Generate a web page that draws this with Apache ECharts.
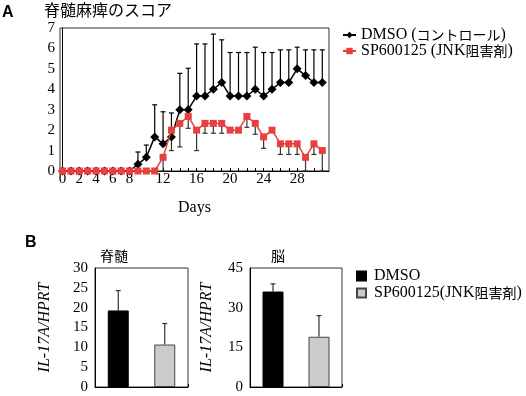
<!DOCTYPE html>
<html><head><meta charset="utf-8">
<script src="https://cdn.jsdelivr.net/npm/echarts@6/dist/echarts.min.js"></script>
<style>html,body{margin:0;padding:0;background:#fff}#c{width:526px;height:396px}</style>
</head><body><div id="c"></div>
<script>
// ---- Panel A data ----
const days = [0,1,2,3,4,5,6,7,8,9,10,11,12,13,14,15,16,17,18,19,20,21,22,23,24,25,26,27,28,29,30,31];
const xTickLabels = [0,2,4,6,8,12,16,20,24,28];
const dmsoScore = [0,0,0,0,0,0,0,0,0,0.33,0.67,1.67,1.33,1.67,3.0,3.0,3.67,3.67,4.0,4.33,3.67,3.67,3.67,4.0,3.67,4.0,4.33,4.33,5.0,4.67,4.33,4.33];
const dmsoErrUp = [0,0,0,0,0,0,0,0,0,0.6,0.6,1.57,1.57,1.17,1.78,2.03,2.55,2.55,2.7,2.09,2.13,2.13,2.13,2.06,2.13,1.8,1.6,1.6,1.06,1.26,1.6,1.6];
const spScore = [0,0,0,0,0,0,0,0,0,0,0,0,0.67,2.0,2.33,2.67,2.0,2.33,2.33,2.33,2.0,2.0,2.67,2.33,1.67,2.0,1.33,1.33,1.33,0.67,1.33,1.0];
const spErrDown = [0,0,0,0,0,0,0,0,0,0,0,0,0.67,1.0,1.15,0.58,1.0,0.48,0.48,0.48,0,0,0.53,0.53,0.56,0,0.52,0.52,0.52,0.67,0.52,1.0];
const nameDmsoA = 'DMSO (コントロール)';
const nameSpA = 'SP600125 (JNK阻害剤)';
// ---- Panel B data ----
const groups = ['DMSO', 'SP600125(JNK阻害剤)'];
const spinalMean = [19.3, 10.7];
const spinalErr = [5.0, 5.3];
const brainMean = [36.1, 19.0];
const brainErr = [2.9, 8.0];
const spinalTicks = [0, 30, 5];
const brainTicks = [0, 45, 15];

const SERIF = '"Liberation Serif","Noto Sans CJK JP",serif';
const CJK = '"Noto Sans CJK JP",sans-serif';
const RED = '#e8403f';

function richName(name) {
  let out = '', cur = '', curType = null;
  for (const ch of name) {
    const t = /[\u3000-\u9fff\uff00-\uffef]/.test(ch) ? 'c' : 's';
    if (t !== curType && cur) { out += '{' + curType + '|' + cur + '}'; cur = ''; }
    curType = t; cur += ch;
  }
  if (cur) out += '{' + curType + '|' + cur + '}';
  return out;
}

function errRender(color) {
  return function (params, api) {
    const x = api.value(0), y0 = api.value(1), y1 = api.value(2);
    const p0 = api.coord([x, y0]), p1 = api.coord([x, y1]);
    if (Math.abs(p0[1] - p1[1]) < 0.5) return { type: 'group', children: [] };
    return { type: 'group', children: [
      { type: 'line', shape: { x1: p0[0], y1: p0[1], x2: p1[0], y2: p1[1] }, style: { stroke: color, lineWidth: 1.2 } },
      { type: 'line', shape: { x1: p1[0] - 2.5, y1: p1[1], x2: p1[0] + 2.5, y2: p1[1] }, style: { stroke: color, lineWidth: 1.2 } }
    ]};
  };
}

const dmsoLine = days.map((d, i) => [d, dmsoScore[i]]);
const spLine = days.map((d, i) => [d, spScore[i]]);
const dmsoErr = days.map((d, i) => [d, dmsoScore[i], dmsoScore[i] + dmsoErrUp[i]]);
const spErr = days.map((d, i) => [d, spScore[i], spScore[i] - spErrDown[i]]);

function barY(idx, t, gap) {
  return { type: 'value', gridIndex: idx, min: t[0], max: t[1], interval: t[2],
    name: 'IL-17A/HPRT', nameLocation: 'middle', nameGap: gap, nameRotate: 90,
    nameTextStyle: { fontFamily: SERIF, fontStyle: 'italic', fontSize: 16, color: '#000' },
    axisLine: { show: true, lineStyle: { color: '#000', width: 1 } },
    axisTick: { show: false }, splitLine: { show: false },
    axisLabel: { fontFamily: SERIF, fontSize: 15, color: '#000', margin: 7 } };
}
function barX(idx) {
  return { type: 'category', gridIndex: idx, data: ['DMSO', 'SP600125'],
    axisLine: { lineStyle: { color: '#000', width: 1 } },
    axisTick: { show: true, inside: true, length: 3, lineStyle: { color: '#000' } },
    axisLabel: { show: false } };
}
function barSeries(idx, means, errs) {
  const out = [];
  out.push({ type: 'bar', name: groups[0], xAxisIndex: idx, yAxisIndex: idx, barWidth: 21, barGap: '-100%',
    data: [means[0], '-'], itemStyle: { color: '#000', borderColor: '#000', borderWidth: 1 } });
  out.push({ type: 'bar', name: groups[1], xAxisIndex: idx, yAxisIndex: idx, barWidth: 21, barGap: '-100%',
    data: ['-', means[1]], itemStyle: { color: '#cbcbcb', borderColor: '#444', borderWidth: 1 } });
  out.push({ type: 'custom', xAxisIndex: idx, yAxisIndex: idx, renderItem: errRender('#333'), z: 1,
    data: means.map((m, i) => [i, m, m + errs[i]]), silent: true });
  return out;
}

const sansBold = '"Liberation Sans",Arial,sans-serif';
const chart = echarts.init(document.getElementById('c'));
chart.setOption({
  animation: false,
  backgroundColor: '#fff',
  title: [
    { text: 'A', left: 2, top: 5, padding: 0, textStyle: { fontFamily: sansBold, fontWeight: 'bold', fontSize: 16, color: '#000' } },
    { text: '脊髄麻痺のスコア', left: 44, top: 2, padding: 0, textStyle: { fontFamily: CJK, fontWeight: 'normal', fontSize: 16, color: '#000' } },
    { text: 'B', left: 25, top: 235, padding: 0, textStyle: { fontFamily: sansBold, fontWeight: 'bold', fontSize: 16, color: '#000' } },
    { text: '脊髄', left: 100, top: 249, padding: 0, textStyle: { fontFamily: CJK, fontWeight: 'normal', fontSize: 14, color: '#000' } },
    { text: '脳', left: 271, top: 249, padding: 0, textStyle: { fontFamily: CJK, fontWeight: 'normal', fontSize: 14, color: '#000' } }
  ],
  legend: [
    { data: [nameDmsoA, nameSpA], orient: 'vertical', left: 337, top: 22, itemWidth: 13, itemHeight: 8, itemGap: 0,
      formatter: richName,
      textStyle: { fontFamily: SERIF, fontSize: 16, color: '#000',
        rich: { s: { fontFamily: SERIF, fontSize: 16, lineHeight: 17, color: '#000' },
                c: { fontFamily: CJK, fontSize: 14, lineHeight: 17, color: '#000' } } } },
    { data: groups, orient: 'vertical', left: 351, top: 263, icon: 'rect', itemWidth: 9, itemHeight: 9, itemGap: 1,
      formatter: richName,
      textStyle: { fontFamily: SERIF, fontSize: 16, color: '#000', padding: [0, 0, 0, 3],
        rich: { s: { fontFamily: SERIF, fontSize: 16, lineHeight: 16, color: '#000' },
                c: { fontFamily: CJK, fontSize: 14, lineHeight: 16, color: '#000' } } } }
  ],
  grid: [
    { left: 60, top: 28, width: 269, height: 143, show: true, borderColor: '#333', borderWidth: 1 },
    { left: 95, top: 268, width: 93, height: 119, show: true, borderColor: '#333', borderWidth: 1 },
    { left: 250, top: 268, width: 92, height: 119, show: true, borderColor: '#333', borderWidth: 1 }
  ],
  xAxis: [
    { type: 'value', gridIndex: 0, min: -0.3, max: 31.8,
      name: 'Days', nameLocation: 'middle', nameGap: 29,
      nameTextStyle: { fontFamily: SERIF, fontSize: 16, color: '#000' },
      axisLine: { lineStyle: { color: '#000', width: 1 } },
      axisTick: { show: true, inside: true, length: 3, customValues: days, lineStyle: { color: '#000' } },
      axisLabel: { customValues: xTickLabels, fontFamily: SERIF, fontSize: 15, color: '#000', margin: 1 },
      splitLine: { show: false } },
    barX(1), barX(2)
  ],
  yAxis: [
    { type: 'value', gridIndex: 0, min: 0, max: 7, interval: 1,
      axisLine: { show: true, lineStyle: { color: '#000', width: 1 } },
      axisTick: { show: false }, splitLine: { show: false },
      axisLabel: { fontFamily: SERIF, fontSize: 15, color: '#000', margin: 5 } },
    barY(1, spinalTicks, 42), barY(2, brainTicks, 35)
  ],
  series: [
    { type: 'custom', xAxisIndex: 0, yAxisIndex: 0, renderItem: errRender('#000'), data: dmsoErr, z: 1, silent: true },
    { type: 'custom', xAxisIndex: 0, yAxisIndex: 0, renderItem: errRender('#333'), data: spErr, z: 1, silent: true },
    { type: 'line', name: nameDmsoA, xAxisIndex: 0, yAxisIndex: 0, data: dmsoLine, symbol: 'diamond', symbolSize: 9,
      lineStyle: { color: '#000', width: 1.5 }, itemStyle: { color: '#000' }, z: 3 },
    { type: 'line', name: nameSpA, xAxisIndex: 0, yAxisIndex: 0, data: spLine, symbol: 'rect', symbolSize: 7,
      lineStyle: { color: RED, width: 1.5 }, itemStyle: { color: RED }, z: 4 },
    ...barSeries(1, spinalMean, spinalErr),
    ...barSeries(2, brainMean, brainErr)
  ]
});
</script></body></html>
